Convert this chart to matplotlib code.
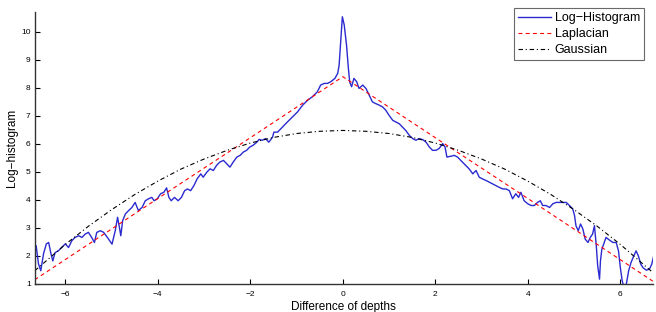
import numpy as np
import matplotlib
matplotlib.use("Agg")
import matplotlib.pyplot as plt

plt.rcParams['font.family'] = ['Liberation Sans', 'DejaVu Sans']

# Log-histogram of depth differences
hist_x = [-6.63, -6.58, -6.53, -6.47, -6.41, -6.36, -6.31, -6.27, -6.22, -6.15,
          -6.08, -6.00, -5.93, -5.86, -5.79, -5.71, -5.64, -5.57, -5.50, -5.43,
          -5.37, -5.32, -5.24, -5.17, -5.09, -4.99, -4.92, -4.87, -4.83, -4.80,
          -4.76, -4.70, -4.63, -4.56, -4.49, -4.42, -4.34, -4.27, -4.20, -4.13,
          -4.08, -4.01, -3.94, -3.87, -3.81, -3.76, -3.71, -3.64, -3.56, -3.49,
          -3.42, -3.36, -3.29, -3.22, -3.15, -3.07, -3.02, -2.94, -2.87, -2.80,
          -2.73, -2.66, -2.58, -2.51, -2.44, -2.37, -2.29, -2.22, -2.15, -2.08,
          -2.01, -1.94, -1.86, -1.81, -1.74, -1.67, -1.60, -1.52, -1.49, -1.41,
          -1.34, -1.27, -1.20, -1.09, -0.98, -0.87, -0.76, -0.66, -0.55, -0.48,
          -0.40, -0.33, -0.26, -0.17, -0.11, -0.08, -0.04, -0.01, 0.03, 0.08,
          0.12, 0.15, 0.19, 0.24, 0.30, 0.35, 0.43, 0.50, 0.57, 0.64,
          0.71, 0.79, 0.86, 0.93, 1.00, 1.08, 1.15, 1.22, 1.29, 1.36,
          1.44, 1.51, 1.58, 1.65, 1.73, 1.80, 1.87, 1.94, 2.01, 2.08,
          2.16, 2.21, 2.25, 2.34, 2.41, 2.48, 2.55, 2.66, 2.73, 2.81,
          2.88, 2.95, 3.02, 3.10, 3.17, 3.24, 3.31, 3.38, 3.46, 3.53,
          3.60, 3.67, 3.74, 3.80, 3.85, 3.92, 4.00, 4.07, 4.14, 4.21,
          4.27, 4.32, 4.39, 4.47, 4.54, 4.61, 4.68, 4.72, 4.83, 4.90,
          4.97, 5.01, 5.04, 5.09, 5.14, 5.19, 5.24, 5.30, 5.35, 5.40,
          5.44, 5.48, 5.51, 5.55, 5.57, 5.60, 5.64, 5.69, 5.76, 5.84,
          5.91, 5.96, 6.00, 6.04, 6.08, 6.13, 6.18, 6.23, 6.29, 6.34,
          6.39, 6.44, 6.49, 6.56, 6.63, 6.68, 6.73]
hist_y = [2.36, 1.72, 1.47, 2.08, 2.43, 2.48, 2.08, 1.82, 2.12, 2.18,
          2.30, 2.43, 2.30, 2.54, 2.66, 2.72, 2.66, 2.78, 2.84, 2.66,
          2.48, 2.84, 2.90, 2.84, 2.66, 2.42, 2.90, 3.38, 3.02, 2.72,
          3.26, 3.50, 3.62, 3.73, 3.91, 3.62, 3.73, 3.97, 4.04, 4.09,
          3.97, 4.04, 4.22, 4.27, 4.43, 4.09, 3.97, 4.09, 3.97, 4.09,
          4.33, 4.39, 4.33, 4.51, 4.75, 4.93, 4.81, 4.99, 5.11, 5.05,
          5.23, 5.35, 5.41, 5.29, 5.17, 5.35, 5.53, 5.59, 5.71, 5.77,
          5.89, 5.95, 6.06, 6.16, 6.13, 6.19, 6.06, 6.24, 6.42, 6.42,
          6.54, 6.66, 6.78, 6.96, 7.14, 7.38, 7.56, 7.68, 7.86, 8.10,
          8.16, 8.16, 8.22, 8.34, 8.52, 8.81, 9.77, 10.54, 10.25, 9.53,
          8.70, 8.20, 8.04, 8.34, 8.22, 7.98, 8.10, 7.98, 7.74, 7.50,
          7.44, 7.38, 7.32, 7.20, 7.02, 6.84, 6.78, 6.72, 6.60, 6.48,
          6.30, 6.19, 6.13, 6.19, 6.15, 6.06, 5.89, 5.77, 5.77, 5.83,
          6.01, 5.89, 5.53, 5.56, 5.59, 5.53, 5.41, 5.23, 5.11, 4.93,
          5.05, 4.81, 4.75, 4.69, 4.63, 4.57, 4.51, 4.45, 4.39, 4.39,
          4.33, 4.04, 4.22, 4.09, 4.27, 3.97, 3.86, 3.80, 3.80, 3.91,
          3.97, 3.80, 3.80, 3.73, 3.86, 3.91, 3.91, 3.91, 3.91, 3.80,
          3.68, 3.44, 3.08, 2.90, 3.14, 2.96, 2.60, 2.48, 2.66, 2.78,
          3.08, 2.36, 1.65, 1.17, 1.82, 2.24, 2.42, 2.66, 2.57, 2.48,
          2.48, 2.18, 1.58, 1.11, 0.87, 1.00, 1.47, 1.76, 2.00, 2.18,
          2.00, 1.71, 1.58, 1.49, 1.53, 1.71, 2.06]

# Laplacian fit (piecewise linear in log domain)
lap_x = [-6.66, -4.0, -2.0, 0.0, 2.0, 4.0, 6.7]
lap_y = [1.15, 4.05, 6.22, 8.40, 6.22, 4.05, 1.10]

# Gaussian fit
gau_x = [-6.66, -6.0, -5.5, -5.0, -4.5, -4.0, -3.5, -3.0, -2.5, -2.0, -1.5, -1.0, -0.5, 0.0,
         0.5, 1.0, 1.5, 2.0, 2.5, 3.0, 3.5, 4.0, 4.5, 5.0, 5.5, 6.0, 6.7]
gau_y = [1.47, 2.41, 3.06, 3.65, 4.19, 4.67, 5.10, 5.46, 5.77, 6.03, 6.23, 6.37, 6.45, 6.48,
         6.45, 6.37, 6.23, 6.03, 5.77, 5.46, 5.10, 4.67, 4.19, 3.65, 3.06, 2.41, 1.41]

x_ticks = [-6, -4, -2, 0, 2, 4, 6]
y_ticks = [1, 2, 3, 4, 5, 6, 7, 8, 9, 10]

fig = plt.figure(figsize=(6.56, 3.12), dpi=100)
ax = fig.add_axes([0.053, 0.09, 0.942, 0.8725])

ax.plot(hist_x, hist_y, color='#2a2ad0', lw=1.0, label='Log\u2212Histogram')
ax.plot(lap_x, lap_y, color='red', lw=0.8, ls=(0, (3.5, 3)), label='Laplacian')
ax.plot(gau_x, gau_y, color='black', lw=0.8, ls=(0, (4, 2.5, 1, 2.5)), label='Gaussian')

ax.set_xlim(-6.66, 6.7)
ax.set_ylim(1, 10.72)
ax.set_xticks(x_ticks)
ax.set_yticks(y_ticks)
ax.tick_params(direction='in', length=3.5, width=0.8, labelsize=6)
ax.tick_params(axis='x', pad=5)
ax.tick_params(axis='y', pad=3)

for side in ['top', 'right']:
    ax.spines[side].set_visible(False)
for side in ['left', 'bottom']:
    ax.spines[side].set_linewidth(1.0)
    ax.spines[side].set_color('#333333')

ax.set_xlabel('Difference of depths', fontsize=8.5, labelpad=2)
ax.set_ylabel('Log\u2212histogram', fontsize=8.5, labelpad=2)

leg = ax.legend(loc='upper right', bbox_to_anchor=(0.982, 0.974),
                bbox_transform=fig.transFigure, fontsize=9, frameon=True,
                fancybox=False, handlelength=2.6, handletextpad=0.3,
                borderpad=0.35, labelspacing=0.3, borderaxespad=0)
leg.get_frame().set_edgecolor('#444444')
leg.get_frame().set_linewidth(0.8)

fig.savefig('out.png', dpi=100)
